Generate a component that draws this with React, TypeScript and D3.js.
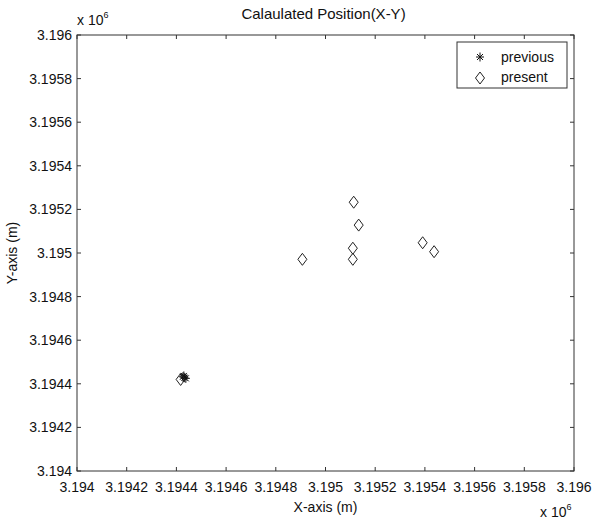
import React from "react";
import * as d3 from "d3";

// values are in units of 1e6 m, as on the axes
const previousX = [3.194432, 3.194426, 3.194438, 3.19443];
const previousY = [3.194428, 3.194432, 3.194425, 3.194436];
const presentX = [3.194417, 3.194907, 3.19511, 3.19511, 3.1951135, 3.1951336, 3.195391, 3.195437];
const presentY = [3.19442, 3.194971, 3.194971, 3.195022, 3.195233, 3.195128, 3.195047, 3.195006];
const xTicks = [3.194, 3.1942, 3.1944, 3.1946, 3.1948, 3.195, 3.1952, 3.1954, 3.1956, 3.1958, 3.196];
const yTicks = [3.194, 3.1942, 3.1944, 3.1946, 3.1948, 3.195, 3.1952, 3.1954, 3.1956, 3.1958, 3.196];

const W = 593;
const H = 522;
const left = 77;
const right = 574;
const top = 35;
const bottom = 471;
const font = "'Liberation Sans', Arial, sans-serif";
const fs = 14;

const fmt = (v: number) => String(+v.toFixed(4));

const Star = ({ x, y }: { x: number; y: number }) => (
  <g stroke="#111" strokeWidth={1}>
    <line x1={x - 4} y1={y} x2={x + 4} y2={y} />
    <line x1={x} y1={y - 4.5} x2={x} y2={y + 4.5} />
    <line x1={x - 3} y1={y - 3} x2={x + 3} y2={y + 3} />
    <line x1={x - 3} y1={y + 3} x2={x + 3} y2={y - 3} />
  </g>
);

const Diamond = ({ x, y }: { x: number; y: number }) => (
  <path
    d={`M${x},${y - 6}L${x + 4.5},${y}L${x},${y + 6}L${x - 4.5},${y}Z`}
    fill="none"
    stroke="#222"
    strokeWidth={1}
  />
);

export default function App() {
  const x = d3.scaleLinear().domain([3.194, 3.196]).range([left, right]);
  const y = d3.scaleLinear().domain([3.194, 3.196]).range([bottom, top]);

  return (
    <svg width={W} height={H} style={{ position: "absolute", left: 0, top: 0, background: "#fff" }} fontFamily={font}>
      <rect x={0} y={0} width={W} height={H} fill="#fff" />
      <text x={(left + right) / 2 - 2} y={19} textAnchor="middle" fontSize={15} fill="#111">
        Calaulated Position(X-Y)
      </text>
      <rect x={left} y={top} width={right - left} height={bottom - top} fill="none" stroke="#333" strokeWidth={1} />
      {xTicks.map((t) => (
        <g key={"x" + t}>
          <line x1={x(t)} x2={x(t)} y1={bottom} y2={bottom - 4} stroke="#333" />
          <line x1={x(t)} x2={x(t)} y1={top} y2={top + 4} stroke="#333" />
          <text x={x(t)} y={bottom + 21} textAnchor="middle" fontSize={fs} fill="#111">
            {fmt(t)}
          </text>
        </g>
      ))}
      {yTicks.map((t) => (
        <g key={"y" + t}>
          <line x1={left} x2={left + 4} y1={y(t)} y2={y(t)} stroke="#333" />
          <line x1={right} x2={right - 4} y1={y(t)} y2={y(t)} stroke="#333" />
          <text x={left - 5} y={y(t) + 5} textAnchor="end" fontSize={fs} fill="#111">
            {fmt(t)}
          </text>
        </g>
      ))}
      <text x={left} y={25} fontSize={fs} fill="#111">
        x 10<tspan dy={-7} fontSize={9}>6</tspan>
      </text>
      <text x={540} y={517} fontSize={fs} fill="#111">
        x 10<tspan dy={-7} fontSize={9}>6</tspan>
      </text>
      <text x={(left + right) / 2} y={512} textAnchor="middle" fontSize={fs} fill="#111">
        X-axis (m)
      </text>
      <text
        transform={`translate(17,${(top + bottom) / 2}) rotate(-90)`}
        textAnchor="middle"
        fontSize={fs}
        fill="#111"
      >
        Y-axis (m)
      </text>
      {previousX.map((v, i) => (
        <Star key={"p" + i} x={x(v)} y={y(previousY[i])} />
      ))}
      {presentX.map((v, i) => (
        <Diamond key={"d" + i} x={x(v)} y={y(presentY[i])} />
      ))}
      <rect x={457} y={42} width={110} height={46} fill="#fff" stroke="#333" strokeWidth={1} />
      <Star x={480} y={57} />
      <text x={501} y={62} fontSize={fs} fill="#111">previous</text>
      <Diamond x={480} y={78} />
      <text x={501} y={82} fontSize={fs} fill="#111">present</text>
    </svg>
  );
}
